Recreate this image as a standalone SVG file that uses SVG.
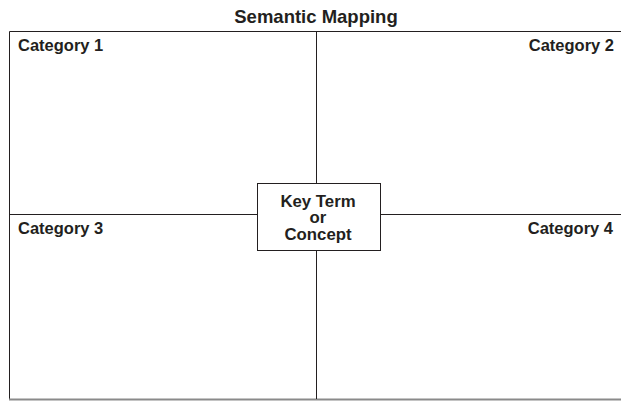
<svg xmlns="http://www.w3.org/2000/svg" width="621" height="402" viewBox="0 0 621 402">
  <style>
    text { font-family: "Liberation Sans", Arial, sans-serif; font-weight: bold; fill: #231f20; }
    .cat { font-size: 16.5px; }
    .title { font-size: 18.5px; }
    .key { font-size: 16.8px; }
    .rule { stroke: #231f20; stroke-width: 1; fill: none; }
  </style>
  <rect width="621" height="402" fill="#ffffff"/>

  <g id="title">
    <text class="title" x="316" y="22.5" text-anchor="middle">Semantic Mapping</text>
  </g>

  <!-- frame and dividing lines -->
  <g id="connectors">
    <path class="rule" d="M9.5 31.5 H621 M9.5 31.5 V399"/>
    <path d="M9 399.5 H621" stroke="#8a8a8a" stroke-width="2" fill="none"/>
    <path class="rule" d="M316.5 31.5 V183 M316.5 251 V399"/>
    <path class="rule" d="M9.5 214.5 H257 M381 214.5 H621"/>
  </g>

  <g id="category-1">
    <text class="cat" x="18" y="50.5">Category 1</text>
  </g>
  <g id="category-2">
    <text class="cat" x="614" y="50.5" text-anchor="end">Category 2</text>
  </g>
  <g id="category-3">
    <text class="cat" x="18" y="233.5">Category 3</text>
  </g>
  <g id="category-4">
    <text class="cat" x="613" y="233.5" text-anchor="end">Category 4</text>
  </g>

  <g id="key-term">
    <rect class="rule" x="257.5" y="183.5" width="123" height="67" fill="#ffffff"/>
    <text class="key" x="318" y="206.5" text-anchor="middle">Key Term</text>
    <text class="key" x="318" y="223" text-anchor="middle">or</text>
    <text class="key" x="318" y="239.5" text-anchor="middle">Concept</text>
  </g>
</svg>
